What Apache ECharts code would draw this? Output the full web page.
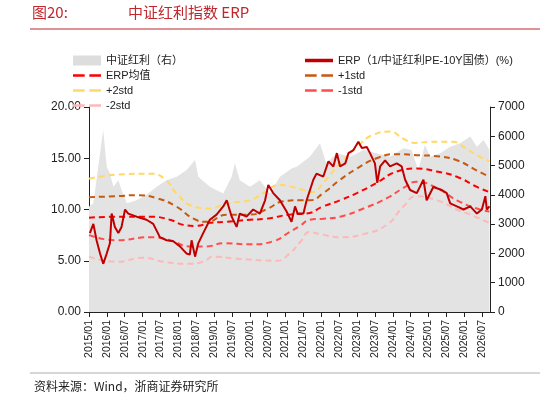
<!DOCTYPE html>
<html><head><meta charset="utf-8">
<script src="https://cdn.jsdelivr.net/npm/echarts@6/dist/echarts.min.js"></script>
<style>html,body{margin:0;padding:0;background:#fff}#c{width:548px;height:403px}</style>
</head><body><div id="c"></div>
<script>
const xLabels = ['2015/01','2016/01','2016/07','2017/01','2017/07','2018/01','2018/07','2019/01','2019/07','2020/01','2020/07','2021/01','2021/07','2022/01','2022/07','2023/01','2023/07','2024/01','2024/07','2025/01','2025/07','2026/01','2026/07'];

const erp = [[0.3,7.7],[1.5,8.6],[2.6,7.0],[3.8,5.7],[4.9,4.7],[6.1,5.7],[7.2,6.7],[7.8,9.6],[8.9,8.3],[10.1,7.7],[11.2,8.3],[12.4,10.0],[13.5,9.6],[16.4,9.3],[19.8,9.0],[22.1,8.6],[24.4,7.3],[26.7,7.0],[29,6.9],[31.3,6.4],[33.6,5.7],[34.7,5.6],[35.3,7.0],[36.5,5.4],[37.6,6.7],[39.3,7.7],[41.6,9.0],[43.9,9.5],[46.2,10.3],[47.4,10.9],[49.1,9.3],[50.8,8.3],[51.9,9.6],[54.2,9.3],[56.5,10.0],[58.8,9.6],[60.6,10.9],[61.7,12.4],[63.4,11.6],[65.7,10.9],[68,9.8],[69.7,8.8],[70.9,10.3],[71.8,9.6],[73.8,9.6],[74.9,10.9],[77.2,12.9],[78.3,13.5],[80.6,13.2],[82.4,14.7],[84.1,14.2],[85.3,15.5],[86.4,14.2],[88.2,14.5],[89.3,15.5],[91.0,15.8],[92.7,16.6],[93.9,16.0],[95.6,16.1],[96.7,15.5],[98.4,14.5],[99.2,12.6],[100.2,14.2],[101.9,14.8],[103.6,14.2],[105.9,14.5],[107.6,14.2],[108.8,12.9],[110.5,11.9],[112.8,11.6],[115.1,12.9],[116.2,10.9],[118.5,12.2],[121.4,11.9],[123.1,11.6],[124.3,10.6],[126.6,10.3],[128.9,10.0],[131.2,10.3],[133.5,9.6],[135.2,10.0],[136.4,11.3],[136.9,10.0],[137.8,10.3]];

const plus2 = [[0,13.0],[9.5,13.4],[21,13.5],[26,13.0],[30,11.6],[36,10.3],[41.6,10.1],[47.4,10.6],[55.4,10.9],[60,11.6],[65.7,12.4],[71.4,12.1],[73.8,11.9],[77.2,11.7],[80.6,12.6],[86.4,14.5],[92.2,16.1],[97.9,17.3],[103.6,17.6],[108.2,16.9],[112.2,16.5],[117.4,16.6],[125.4,16.6],[128.9,16.1],[133.5,15.3],[137.8,14.7]];
const plus1 = [[0,11.2],[9.5,11.3],[16.4,11.4],[23.3,11.1],[30,10.3],[36,9.1],[40.5,8.8],[47.4,9.5],[55.4,9.5],[61,10.0],[66.9,10.8],[72.6,10.9],[76,10.9],[80.6,11.6],[86.4,12.9],[92.2,14.0],[99,15.0],[105.9,15.4],[112.8,15.3],[119.7,15.2],[126.6,14.8],[133.5,13.8],[137.8,13.2]];
const meanLine = [[0,9.2],[9.5,9.3],[21,9.3],[27.9,9.0],[32.5,8.5],[37,8.4],[41.6,8.7],[47.4,8.8],[55.4,9.0],[61,9.1],[69,9.5],[74.9,9.6],[80.6,10.3],[86.4,10.9],[92.2,11.6],[99,12.6],[105.9,13.7],[112.8,14.0],[119.7,13.7],[126.6,13.2],[133.5,12.2],[137.8,11.7]];
const minus1 = [[0,7.5],[9.5,7.0],[21,7.3],[27.9,7.0],[34.7,6.4],[40.5,6.4],[46.2,6.7],[55.4,6.6],[63.4,6.9],[69,7.8],[72.6,8.4],[76,9.0],[80.6,9.1],[86.4,9.3],[94.5,10.1],[102.5,11.1],[108.2,12.1],[112.8,12.7],[119.7,12.1],[126.6,10.9],[133.5,10.1],[137.8,9.8]];
const minus2 = [[0,5.4],[9.5,4.9],[18.7,5.3],[25.6,4.9],[33.6,4.7],[39.3,4.9],[42.8,5.4],[50.8,5.2],[64.6,5.0],[69,5.7],[72.6,6.8],[76,7.8],[79.5,7.6],[86.4,7.3],[94.5,7.6],[102.5,8.5],[108.2,10.3],[112.8,11.3],[119.7,10.9],[126.6,10.0],[131.2,9.5],[137.8,8.7]];

const csi = [[0,3600],[1.5,3710],[3.2,4960],[4.4,5870],[4.9,6210],[6.1,4960],[7.2,4730],[8.4,4280],[10.1,4500],[11.2,4170],[13,3710],[16.4,3820],[19.8,4000],[23.3,4280],[26.7,4500],[30.2,4620],[33.6,4850],[36.5,5190],[37.6,4620],[41.6,4280],[46.2,4050],[49.1,4620],[50.2,5080],[51.9,4500],[55.4,4280],[58.8,4500],[62.3,4050],[65.7,4620],[69.7,4900],[71.5,4960],[76,5300],[79.5,5760],[81.6,5080],[85.3,5420],[89.9,5300],[94.5,5530],[99,5420],[103.6,5300],[108.2,5590],[111,5530],[113.3,4850],[115.6,5700],[117.4,5300],[120.8,5420],[124.3,5640],[127.7,5760],[131.2,5990],[133.5,5640],[135.8,5870],[137.8,5530]];

const STEP = 6.15;
const font = 'Liberation Sans, Noto Sans CJK SC, sans-serif';
const chart = echarts.init(document.getElementById('c'));

function dashed(name, data, color) {
    return {
        name: name, type: 'line', data: data, smooth: 0.5, symbol: 'none', yAxisIndex: 0,
        itemStyle: { color: color },
        lineStyle: { color: color, width: 2, type: [6, 4] }
    };
}

const legText = { fontSize: 11, color: '#222', fontFamily: font };
const dashIcon = 'path://M0,4H10V6H0Z M14,4H24V6H14Z';
function leg(name, left, top, icon) {
    return { data: [name], left: left, top: top, itemWidth: 28, itemHeight: 10, icon: icon, textStyle: legText, itemGap: 4 };
}

chart.setOption({
    animation: false,
    textStyle: { fontFamily: font },
    graphic: [
        { type: 'text', left: 32, top: 5, style: { text: '图20:', fill: '#C0272D', font: '15px "Noto Sans CJK SC", sans-serif' } },
        { type: 'text', left: 128, top: 5, style: { text: '中证红利指数 ERP', fill: '#C0272D', font: '15px "Noto Sans CJK SC", sans-serif' } },
        { type: 'line', shape: { x1: 30, y1: 29, x2: 540, y2: 29 }, style: { stroke: '#C0272D', lineWidth: 1 } },
        { type: 'line', shape: { x1: 30, y1: 373, x2: 540, y2: 373 }, style: { stroke: '#999', lineWidth: 0.8 } },
        { type: 'text', left: 34, top: 380, style: { text: '资料来源：Wind，浙商证券研究所', fill: '#222', font: '12px "Noto Sans CJK SC", sans-serif' } }
    ],
    legend: [
        leg('中证红利（右）', 68, 50, 'rect'),
        leg('ERP（1/中证红利PE-10Y国债）(%)', 300, 50, 'path://M0,3.5H24V6.5H0Z'),
        leg('ERP均值', 68, 65, dashIcon),
        leg('+1std', 300, 65, dashIcon),
        leg('+2std', 68, 80, dashIcon),
        leg('-1std', 300, 80, dashIcon),
        leg('-2std', 68, 95, dashIcon)
    ],
    grid: { left: 89, right: 58, top: 107, bottom: 91 },
    xAxis: {
        type: 'value', min: 0, max: 138, interval: STEP,
        axisLine: { lineStyle: { color: '#222' } },
        axisTick: { show: true, lineStyle: { color: '#222' } },
        splitLine: { show: false },
        axisLabel: {
            rotate: 90, fontSize: 10.5, color: '#222', showMaxLabel: false,
            formatter: v => xLabels[Math.round(v / STEP)] || ''
        }
    },
    yAxis: [
        {
            type: 'value', min: 0, max: 20, interval: 5,
            axisLine: { show: true, lineStyle: { color: '#222' } },
            axisTick: { show: true, lineStyle: { color: '#222' } },
            splitLine: { show: false },
            axisLabel: { fontSize: 12, color: '#222', formatter: v => v.toFixed(2) }
        },
        {
            type: 'value', min: 0, max: 7000, interval: 1000,
            axisLine: { show: true, lineStyle: { color: '#222' } },
            axisTick: { show: true, lineStyle: { color: '#222' } },
            splitLine: { show: false },
            axisLabel: { fontSize: 12, color: '#222', formatter: v => String(v) }
        }
    ],
    series: [
        {
            name: '中证红利（右）', type: 'line', yAxisIndex: 1, data: csi, symbol: 'none',
            itemStyle: { color: '#DDDDDD' },
            lineStyle: { width: 0 }, areaStyle: { color: '#E3E3E3', opacity: 1 }
        },
        dashed('+2std', plus2, '#FFD966'),
        dashed('+1std', plus1, '#C55A11'),
        dashed('ERP均值', meanLine, '#FF0000'),
        dashed('-1std', minus1, '#FF4D4D'),
        dashed('-2std', minus2, '#FFB8B8'),
        {
            name: 'ERP（1/中证红利PE-10Y国债）(%)', type: 'line', yAxisIndex: 0, data: erp, symbol: 'none',
            itemStyle: { color: '#C00000' }, lineStyle: { color: '#C00000', width: 2 }
        }
    ]
});
</script></body></html>
